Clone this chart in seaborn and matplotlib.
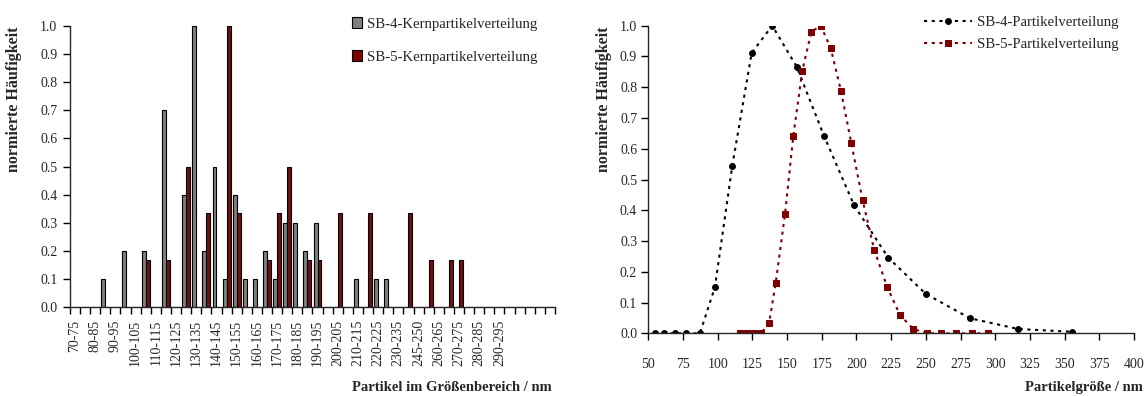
import matplotlib
matplotlib.use("Agg")
import matplotlib.pyplot as plt
import seaborn as sns
import pandas as pd
from matplotlib.patches import Patch

# ---------------- data: left chart (core particle distribution) ----------------
categories = ["70-75", "75-80", "80-85", "85-90", "90-95", "95-100", "100-105", "105-110",
              "110-115", "115-120", "120-125", "125-130", "130-135", "135-140", "140-145",
              "145-150", "150-155", "155-160", "160-165", "165-170", "170-175", "175-180",
              "180-185", "185-190", "190-195", "195-200", "200-205", "205-210", "210-215",
              "215-220", "220-225", "225-230", "230-235", "235-245", "245-250", "250-260",
              "260-265", "265-270", "270-275", "275-280", "280-285", "285-290", "290-295",
              "295-300", "300-305", "305-310", "310-315", "315-320"]
tick_labels = ["70-75", "", "80-85", "", "90-95", "", "100-105", "", "110-115", "",
               "120-125", "", "130-135", "", "140-145", "", "150-155", "", "160-165", "",
               "170-175", "", "180-185", "", "190-195", "", "200-205", "", "210-215", "",
               "220-225", "", "230-235", "", "245-250", "", "260-265", "", "270-275", "",
               "280-285", "", "290-295", "", "", "", "", ""]
sb4_core = [0, 0, 0, 0.1, 0, 0.2, 0, 0.2, 0, 0.7, 0, 0.4, 1.0, 0.2, 0.5, 0.1, 0.4, 0.1,
            0.1, 0.2, 0.1, 0.3, 0.3, 0.2, 0.3, 0, 0, 0, 0.1, 0, 0.1, 0.1, 0, 0, 0, 0,
            0, 0, 0, 0, 0, 0, 0, 0, 0, 0, 0, 0]
sb5_core = [0, 0, 0, 0, 0, 0, 0, 0.167, 0, 0.167, 0, 0.5, 0, 0.333, 0, 1.0, 0.333, 0,
            0, 0.167, 0.333, 0.5, 0, 0.167, 0.167, 0, 0.333, 0, 0, 0.333, 0, 0, 0, 0.333,
            0, 0.167, 0, 0.167, 0.167, 0, 0, 0, 0, 0, 0, 0, 0, 0]
core_series = ["SB-4-Kernpartikelverteilung", "SB-5-Kernpartikelverteilung"]

# ---------------- data: right chart (particle size distribution) ----------------
sb4_x = [54.8, 61.5, 69.2, 77.2, 87.2, 98.0, 110.5, 124.5, 139.3, 156.9, 176.6, 198.2,
         222.9, 250.0, 281.8, 316.6, 355.5]
sb4_y = [0, 0, 0, 0, 0, 0.15, 0.544, 0.912, 1.0, 0.867, 0.642, 0.417, 0.246, 0.128,
         0.049, 0.014, 0.005]
sb5_x = [116.1, 121.1, 126.2, 131.2, 137.0, 141.8, 148.5, 154.5, 161.0, 167.5, 174.2,
         181.4, 188.8, 196.3, 204.5, 212.8, 222.2, 231.3, 240.9, 251.0, 260.9, 271.7,
         283.4, 294.7]
sb5_y = [0, 0, 0, 0, 0.033, 0.163, 0.387, 0.642, 0.854, 0.98, 1.0, 0.928, 0.789, 0.618,
         0.432, 0.271, 0.150, 0.060, 0.014, 0, 0, 0, 0, 0]
dist_series = ["SB-4-Partikelverteilung", "SB-5-Partikelverteilung"]

y_ticks = [0.0, 0.1, 0.2, 0.3, 0.4, 0.5, 0.6, 0.7, 0.8, 0.9, 1.0]
x_ticks_right = [50, 75, 100, 125, 150, 175, 200, 225, 250, 275, 300, 325, 350, 375, 400]

GRAY = "#808080"
RED = "#800000"

sns.set_theme(style="ticks")
plt.rcParams["font.family"] = ["Liberation Serif", "DejaVu Serif"]
plt.rcParams["axes.linewidth"] = 1.0
FS = 10
FS_LEG = 10.6
FS_YLAB = 11.5
FS_XLAB = 10.5

fig = plt.figure(figsize=(11.45, 3.96), dpi=100)
ax1 = fig.add_axes([0.0611, 0.2247, 0.4236, 0.7096])
ax2 = fig.add_axes([0.5662, 0.1583, 0.4242, 0.7768])

# ---------------- left chart ----------------
df = pd.DataFrame({
    "Kategorie": categories * 2,
    "Serie": [core_series[0]] * len(categories) + [core_series[1]] * len(categories),
    "Wert": sb4_core + sb5_core,
})
sns.barplot(data=df, x="Kategorie", y="Wert", hue="Serie", order=categories,
            hue_order=core_series, palette=[GRAY, RED], edgecolor="black",
            linewidth=0.8, width=0.78, ax=ax1, legend=False)
ax1.set_xlim(-0.5, len(categories) - 0.5)
ax1.set_ylim(0, 1.0)
ax1.set_yticks(y_ticks)
ax1.set_yticklabels([f"{v:.1f}" for v in y_ticks], fontsize=FS)
ax1.set_xticks(range(len(categories)))
ax1.set_xticklabels(tick_labels, rotation=90, fontsize=FS, va="top", ha="center")
ax1.tick_params(axis="x", which="major", length=0, pad=9)
ax1.set_xticks([i - 0.5 for i in range(len(categories) + 1)], minor=True)
ax1.tick_params(axis="x", which="minor", length=5, width=1, direction="out", color="black")
ax1.tick_params(axis="y", length=5, width=1, direction="out", pad=4, color="black")
for s in ["top", "right"]:
    ax1.spines[s].set_visible(False)
ax1.set_ylabel("normierte Häufigkeit", fontsize=FS_YLAB, fontweight="bold")
ax1.yaxis.set_label_coords(-0.099, 0.738)
ax1.set_xlabel("Partikel im Größenbereich / nm", fontsize=FS_XLAB, fontweight="bold")
ax1.xaxis.set_label_coords(0.994, -0.265)
ax1.xaxis.label.set_ha("right")
handles = [Patch(facecolor=GRAY, edgecolor="black", linewidth=0.8),
           Patch(facecolor=RED, edgecolor="black", linewidth=0.8)]
fig.legend(handles, core_series, loc="upper left", bbox_to_anchor=(0.296, 0.99),
           frameon=False, fontsize=FS_LEG, handlelength=0.7, handleheight=0.7,
           handletextpad=0.3, labelspacing=1.35)

# ---------------- right chart ----------------
sns.lineplot(x=sb4_x, y=sb4_y, ax=ax2, color="black", marker="o", markersize=4.2,
             markeredgecolor="black", linestyle=(0, (1.5, 2.2)), linewidth=1.5,
             sort=False, label=dist_series[0])
sns.lineplot(x=sb5_x, y=sb5_y, ax=ax2, color=RED, marker="s", markersize=4.2,
             markeredgecolor=RED, linestyle=(0, (1.5, 2.2)), linewidth=1.5,
             sort=False, label=dist_series[1])
ax2.set_xlim(50, 400)
ax2.set_ylim(0, 1.0)
ax2.set_xticks(x_ticks_right)
ax2.set_xticklabels([str(v) for v in x_ticks_right], fontsize=FS)
ax2.set_yticks(y_ticks)
ax2.set_yticklabels([f"{v:.1f}" for v in y_ticks], fontsize=FS)
ax2.tick_params(axis="x", length=5, width=1, direction="out", pad=13, color="black")
ax2.tick_params(axis="y", length=5, width=1, direction="out", pad=3, color="black")
for s in ["top", "right"]:
    ax2.spines[s].set_visible(False)
ax2.set_ylabel("normierte Häufigkeit", fontsize=FS_YLAB, fontweight="bold")
ax2.yaxis.set_label_coords(-0.075, 0.76)
ax2.set_xlabel("Partikelgröße / nm", fontsize=FS_XLAB, fontweight="bold")
ax2.xaxis.set_label_coords(1.0185, -0.155)
ax2.xaxis.label.set_ha("right")
ax2.legend(loc="upper right", bbox_to_anchor=(0.995, 1.075), frameon=False,
           fontsize=FS_LEG, handlelength=3.3, handletextpad=0.3, labelspacing=0.6,
           numpoints=1)

fig.savefig("out.png", dpi=100)
